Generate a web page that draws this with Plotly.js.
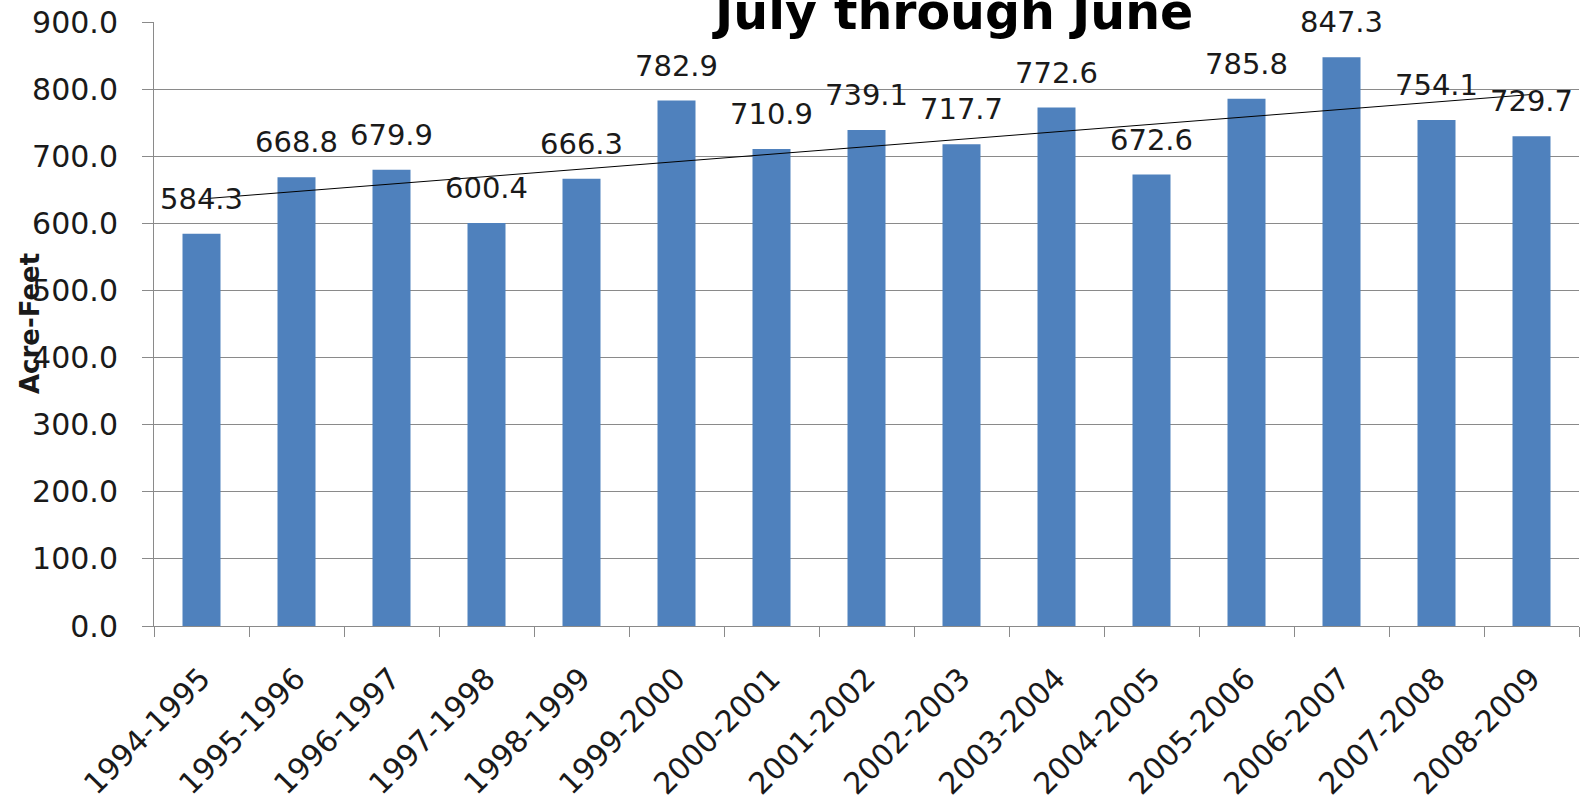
<!DOCTYPE html>
<html>
<head>
<meta charset="utf-8">
<script src="https://cdn.plot.ly/plotly-3.0.1.min.js"></script>
<style>
  html, body { margin: 0; padding: 0; background: #ffffff; }
  #chart { width: 1585px; height: 801px; }
</style>
</head>
<body>
<div id="chart"></div>
<script>
// ---- data ----
const seasons = ["1994-1995","1995-1996","1996-1997","1997-1998","1998-1999","1999-2000","2000-2001","2001-2002","2002-2003","2003-2004","2004-2005","2005-2006","2006-2007","2007-2008","2008-2009"];
const acreFeet = [584.3, 668.8, 679.9, 600.4, 666.3, 782.9, 710.9, 739.1, 717.7, 772.6, 672.6, 785.8, 847.3, 754.1, 729.7];
const chartTitle = "July through June";
const yTitle = "Acre-Feet";

// ---- linear trendline (least squares over category index) ----
const n = acreFeet.length;
const idx = acreFeet.map((_, i) => i + 1);
const mx = idx.reduce((a, b) => a + b, 0) / n;
const my = acreFeet.reduce((a, b) => a + b, 0) / n;
let sxy = 0, sxx = 0;
for (let i = 0; i < n; i++) { sxy += (idx[i] - mx) * (acreFeet[i] - my); sxx += (idx[i] - mx) ** 2; }
const slope = sxy / sxx, intercept = my - slope * mx;
const trendY = idx.map(x => intercept + slope * x);

const FONT = "DejaVu Sans";
const GRID = "#8a8a8a";
const TXT = "#1a1a1a";

const bars = {
  type: "bar",
  x: seasons,
  y: acreFeet,
  marker: { color: "#4F81BD" },
  hoverinfo: "x+y",
  showlegend: false
};

const trend = {
  type: "scatter",
  mode: "lines",
  x: seasons,
  y: trendY,
  line: { color: "#000000", width: 1 },
  hoverinfo: "skip",
  showlegend: false
};

const valueLabels = seasons.map((s, i) => ({
  x: s,
  y: acreFeet[i],
  xref: "x",
  yref: "y",
  text: acreFeet[i].toFixed(1),
  showarrow: false,
  xanchor: "center",
  yanchor: "middle",
  yshift: 35,
  font: { family: FONT, size: 29, color: TXT }
}));

const yTitleAnn = {
  xref: "paper", yref: "paper",
  x: -0.087, y: 0.5,
  xanchor: "center", yanchor: "middle",
  text: "<b>" + yTitle + "</b>",
  textangle: -90,
  showarrow: false,
  font: { family: FONT, size: 26, color: TXT }
};

const layout = {
  width: 1585,
  height: 801,
  paper_bgcolor: "#ffffff",
  plot_bgcolor: "#ffffff",
  margin: { l: 154, r: 6, t: 22, b: 175, pad: 0 },
  bargap: 0.6,
  title: {
    text: "<b>" + chartTitle + "</b>",
    font: { family: FONT, size: 49, color: "#000000" },
    xref: "container", yref: "container",
    x: 0.602, xanchor: "center",
    y: 0.985, yanchor: "middle"
  },
  xaxis: {
    type: "category",
    tickangle: -45,
    ticks: "outside",
    tickson: "boundaries",
    ticklen: 10,
    tickcolor: GRID,
    tickwidth: 1,
    showline: true,
    linecolor: GRID,
    linewidth: 1,
    showgrid: false,
    ticklabelstandoff: 22,
    tickfont: { family: FONT, size: 30, color: TXT },
    automargin: false,
    fixedrange: true
  },
  yaxis: {
    range: [0, 900],
    dtick: 100,
    tick0: 0,
    tickformat: ".1f",
    ticks: "outside",
    ticklen: 11,
    tickcolor: GRID,
    tickwidth: 1,
    showline: true,
    linecolor: GRID,
    linewidth: 1,
    showgrid: true,
    gridcolor: GRID,
    gridwidth: 1,
    zeroline: false,
    ticklabelstandoff: 18,
    tickfont: { family: FONT, size: 30, color: TXT },
    automargin: false,
    fixedrange: true
  },
  annotations: valueLabels.concat([yTitleAnn])
};

Plotly.newPlot("chart", [bars, trend], layout, { displayModeBar: false, responsive: false });
</script>
</body>
</html>
